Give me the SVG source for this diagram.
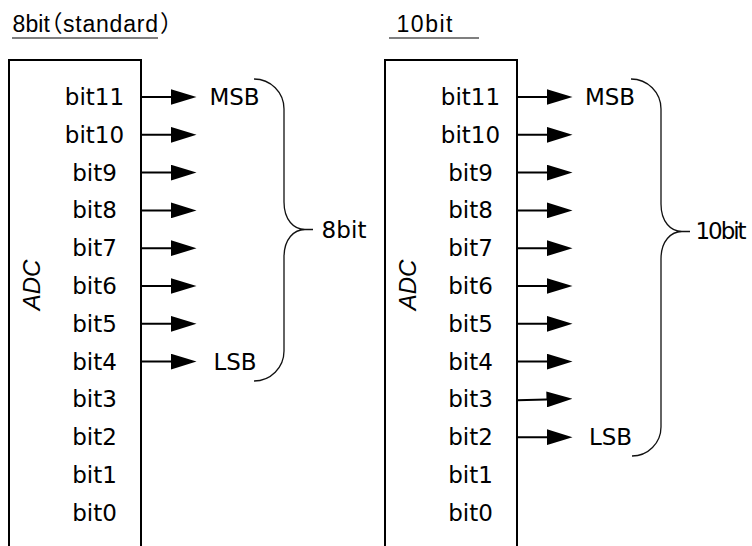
<svg xmlns="http://www.w3.org/2000/svg" width="752" height="546" viewBox="0 0 752 546">
<style>
.lbl{font-family:"DejaVu Sans","Liberation Sans",sans-serif;font-size:23px;fill:#000;text-anchor:middle}
.ttl{font-family:"Liberation Sans","Noto Sans CJK JP",sans-serif;font-size:23px;fill:#000;font-feature-settings:"palt"}
.adc{font-family:"Liberation Sans",sans-serif;font-size:24px;font-style:italic;fill:#000;text-anchor:middle}
.box{fill:none;stroke:#000;stroke-width:2}
.arr{fill:none;stroke:#000;stroke-width:2;marker-end:url(#ah)}
.brace{fill:none;stroke:#111;stroke-width:1.3}
.ul{stroke:#555;stroke-width:1.5}
</style>
<defs>
<marker id="ah" viewBox="0 0 26 16" refX="19.5" refY="8" markerWidth="26" markerHeight="16" markerUnits="userSpaceOnUse" orient="auto">
<path d="M0,0 L26,8 L0,16 Z" fill="#000"/>
</marker>
</defs>

<g id="title-8bit">
<text class="ttl" x="12.5" y="32"><tspan textLength="37.5">8bit</tspan><tspan>（</tspan><tspan x="63" textLength="95">standard</tspan><tspan dx="2">）</tspan></text>
<line class="ul" x1="12" y1="38" x2="158" y2="38"/>
</g>
<g id="title-10bit">
<text class="ttl" x="396.5" y="32" textLength="56">10bit</text>
<line class="ul" x1="389" y1="38" x2="479" y2="38"/>
</g>

<g id="adc-8bit">
<path class="box" d="M9,548 V60 H141 V548"/>
<text class="adc" transform="translate(40,285) rotate(-90)">ADC</text>
<text class="lbl" x="94.5" y="105">bit11</text>
<text class="lbl" x="94.5" y="142.8">bit10</text>
<text class="lbl" x="94.5" y="180.6">bit9</text>
<text class="lbl" x="94.5" y="218.4">bit8</text>
<text class="lbl" x="94.5" y="256.2">bit7</text>
<text class="lbl" x="94.5" y="294">bit6</text>
<text class="lbl" x="94.5" y="331.8">bit5</text>
<text class="lbl" x="94.5" y="369.6">bit4</text>
<text class="lbl" x="94.5" y="407.4">bit3</text>
<text class="lbl" x="94.5" y="445.2">bit2</text>
<text class="lbl" x="94.5" y="483">bit1</text>
<text class="lbl" x="94.5" y="520.8">bit0</text>
</g>

<g id="adc-10bit">
<path class="box" d="M385,548 V60 H517 V548"/>
<text class="adc" transform="translate(416,285) rotate(-90)">ADC</text>
<text class="lbl" x="470.5" y="105">bit11</text>
<text class="lbl" x="470.5" y="142.8">bit10</text>
<text class="lbl" x="470.5" y="180.6">bit9</text>
<text class="lbl" x="470.5" y="218.4">bit8</text>
<text class="lbl" x="470.5" y="256.2">bit7</text>
<text class="lbl" x="470.5" y="294">bit6</text>
<text class="lbl" x="470.5" y="331.8">bit5</text>
<text class="lbl" x="470.5" y="369.6">bit4</text>
<text class="lbl" x="470.5" y="407.4">bit3</text>
<text class="lbl" x="470.5" y="445.2">bit2</text>
<text class="lbl" x="470.5" y="483">bit1</text>
<text class="lbl" x="470.5" y="520.8">bit0</text>
</g>

<g id="msb-8bit"><text class="lbl" x="234.5" y="105">MSB</text></g>
<g id="lsb-8bit"><text class="lbl" x="235" y="369.6">LSB</text></g>
<g id="label-8bit"><text class="lbl" x="344" y="238" textLength="45">8bit</text></g>
<g id="msb-10bit"><text class="lbl" x="610" y="105">MSB</text></g>
<g id="lsb-10bit"><text class="lbl" x="610.5" y="445.2">LSB</text></g>
<g id="label-10bit"><text class="lbl" x="721" y="239" textLength="51">10bit</text></g>

<g id="connectors">
<line class="arr" x1="141" y1="97" x2="190" y2="97"/>
<line class="arr" x1="141" y1="134.8" x2="190" y2="134.8"/>
<line class="arr" x1="141" y1="172.6" x2="190" y2="172.6"/>
<line class="arr" x1="141" y1="210.4" x2="190" y2="210.4"/>
<line class="arr" x1="141" y1="248.2" x2="190" y2="248.2"/>
<line class="arr" x1="141" y1="286" x2="190" y2="286"/>
<line class="arr" x1="141" y1="323.8" x2="190" y2="323.8"/>
<line class="arr" x1="141" y1="361.6" x2="190" y2="361.6"/>

<line class="arr" x1="517" y1="97" x2="566" y2="97"/>
<line class="arr" x1="517" y1="134.8" x2="566" y2="134.8"/>
<line class="arr" x1="517" y1="172.6" x2="566" y2="172.6"/>
<line class="arr" x1="517" y1="210.4" x2="566" y2="210.4"/>
<line class="arr" x1="517" y1="248.2" x2="566" y2="248.2"/>
<line class="arr" x1="517" y1="286" x2="566" y2="286"/>
<line class="arr" x1="517" y1="323.8" x2="566" y2="323.8"/>
<line class="arr" x1="517" y1="361.6" x2="566" y2="361.6"/>
<line class="arr" x1="517" y1="400.2" x2="566" y2="398.9"/>
<line class="arr" x1="517" y1="437.2" x2="566" y2="437.2"/>

<path class="brace" d="M254,79 A30,30 0 0 1 284,109 V202 C284,220 294,229.5 305,229.5 H313 M305,229.5 C294,229.5 284,239 284,257 V351 A30,30 0 0 1 254,381"/>
<path class="brace" d="M631,79 A30,30 0 0 1 661,109 V204 C661,222 671,231.5 682,231.5 H690 M682,231.5 C671,231.5 661,241 661,259 V427 A29,29 0 0 1 632,456"/>
</g>
</svg>
